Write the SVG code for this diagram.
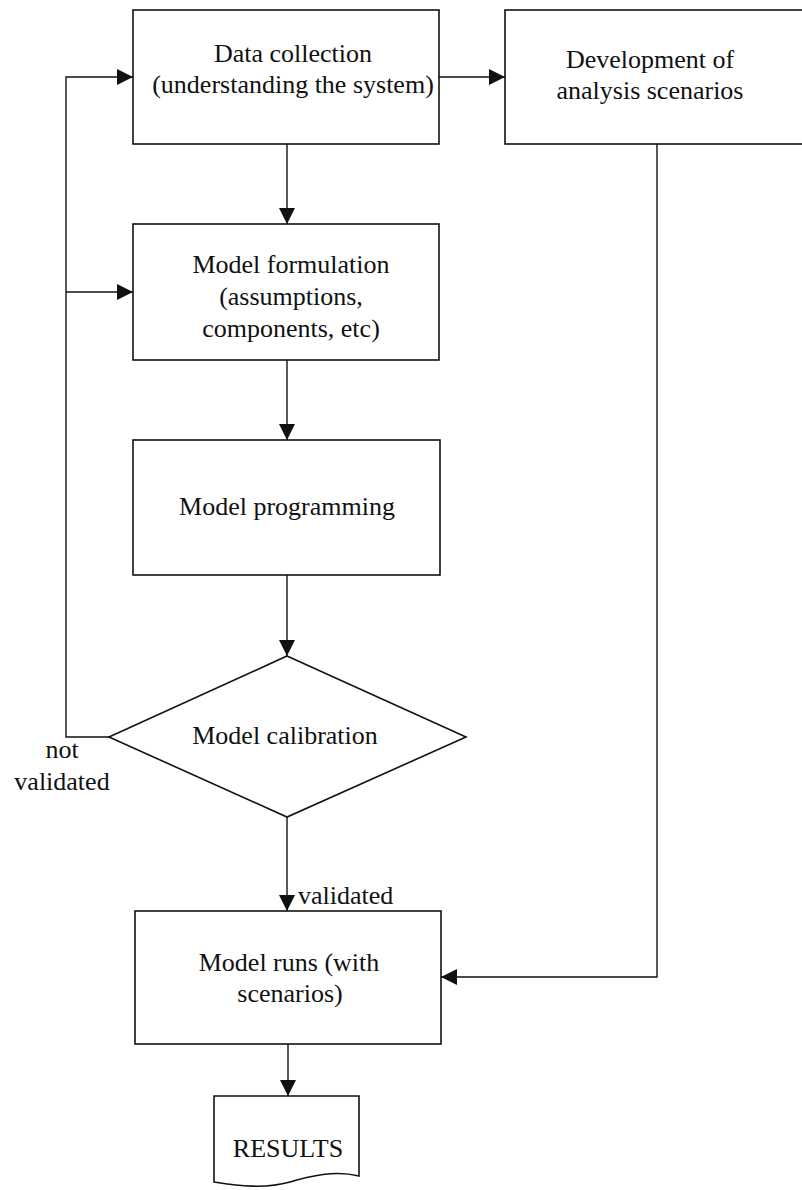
<svg xmlns="http://www.w3.org/2000/svg" width="802" height="1190" viewBox="0 0 802 1190">
<style>
.shape{fill:#fff;stroke:#111;stroke-width:1.6}
.conn{fill:none;stroke:#111;stroke-width:1.4}
.t{font-family:'Liberation Serif','DejaVu Serif',serif;font-size:26px;fill:#111}
.c{text-anchor:middle}
</style>
<defs>
<marker id="arr" markerUnits="userSpaceOnUse" markerWidth="16" markerHeight="16" refX="16" refY="8" orient="auto">
<path d="M0,0 L16,8 L0,16 Z" fill="#111"/>
</marker>
</defs>
<rect width="802" height="1190" fill="#fff"/>
<g id="connectors">
<path class="conn" d="M287,144 V224" marker-end="url(#arr)"/>
<path class="conn" d="M287,360 V440" marker-end="url(#arr)"/>
<path class="conn" d="M287,575 V656" marker-end="url(#arr)"/>
<path class="conn" d="M287,817 V911" marker-end="url(#arr)"/>
<path class="conn" d="M288,1044 V1096" marker-end="url(#arr)"/>
<path class="conn" d="M439,77 H505" marker-end="url(#arr)"/>
<path class="conn" d="M109,737 H66 V77 H133" marker-end="url(#arr)"/>
<path class="conn" d="M66,292 H133" marker-end="url(#arr)"/>
<path class="conn" d="M657,144 V977 H441" marker-end="url(#arr)"/>
<text class="t" font-family="Liberation Serif, serif" x="298" y="904">validated</text>
<text class="t c" font-family="Liberation Serif, serif" x="62" y="758">not</text>
<text class="t c" font-family="Liberation Serif, serif" x="62" y="790">validated</text>
</g>
<g id="data-collection">
<rect class="shape" x="133" y="10" width="306" height="134"/>
<text class="t c" font-family="Liberation Serif, serif" x="293" y="62">Data collection</text>
<text class="t c" font-family="Liberation Serif, serif" x="293" y="93">(understanding the system)</text>
</g>
<g id="development">
<rect class="shape" x="505" y="10" width="310" height="134"/>
<text class="t c" font-family="Liberation Serif, serif" x="650" y="68">Development of</text>
<text class="t c" font-family="Liberation Serif, serif" x="650" y="99">analysis scenarios</text>
</g>
<g id="model-formulation">
<rect class="shape" x="133" y="224" width="306" height="136"/>
<text class="t c" font-family="Liberation Serif, serif" x="291" y="273">Model formulation</text>
<text class="t c" font-family="Liberation Serif, serif" x="291" y="305">(assumptions,</text>
<text class="t c" font-family="Liberation Serif, serif" x="291" y="337">components, etc)</text>
</g>
<g id="model-programming">
<rect class="shape" x="133" y="440" width="307" height="135"/>
<text class="t c" font-family="Liberation Serif, serif" x="287" y="515">Model programming</text>
</g>
<g id="model-calibration">
<path class="shape" d="M287,656 L466,737 L287,817 L109,737 Z"/>
<text class="t c" font-family="Liberation Serif, serif" x="285" y="744">Model calibration</text>
</g>
<g id="model-runs">
<rect class="shape" x="135" y="911" width="306" height="133"/>
<text class="t c" font-family="Liberation Serif, serif" x="289" y="971">Model runs (with</text>
<text class="t c" font-family="Liberation Serif, serif" x="290" y="1002">scenarios)</text>
</g>
<g id="results">
<path class="shape" d="M214,1096 H359 V1176 C335,1170 310,1176 290,1182 C265,1189 240,1186 214,1182 Z"/>
<text class="t c" font-family="Liberation Serif, serif" x="288" y="1157">RESULTS</text>
</g>
</svg>
